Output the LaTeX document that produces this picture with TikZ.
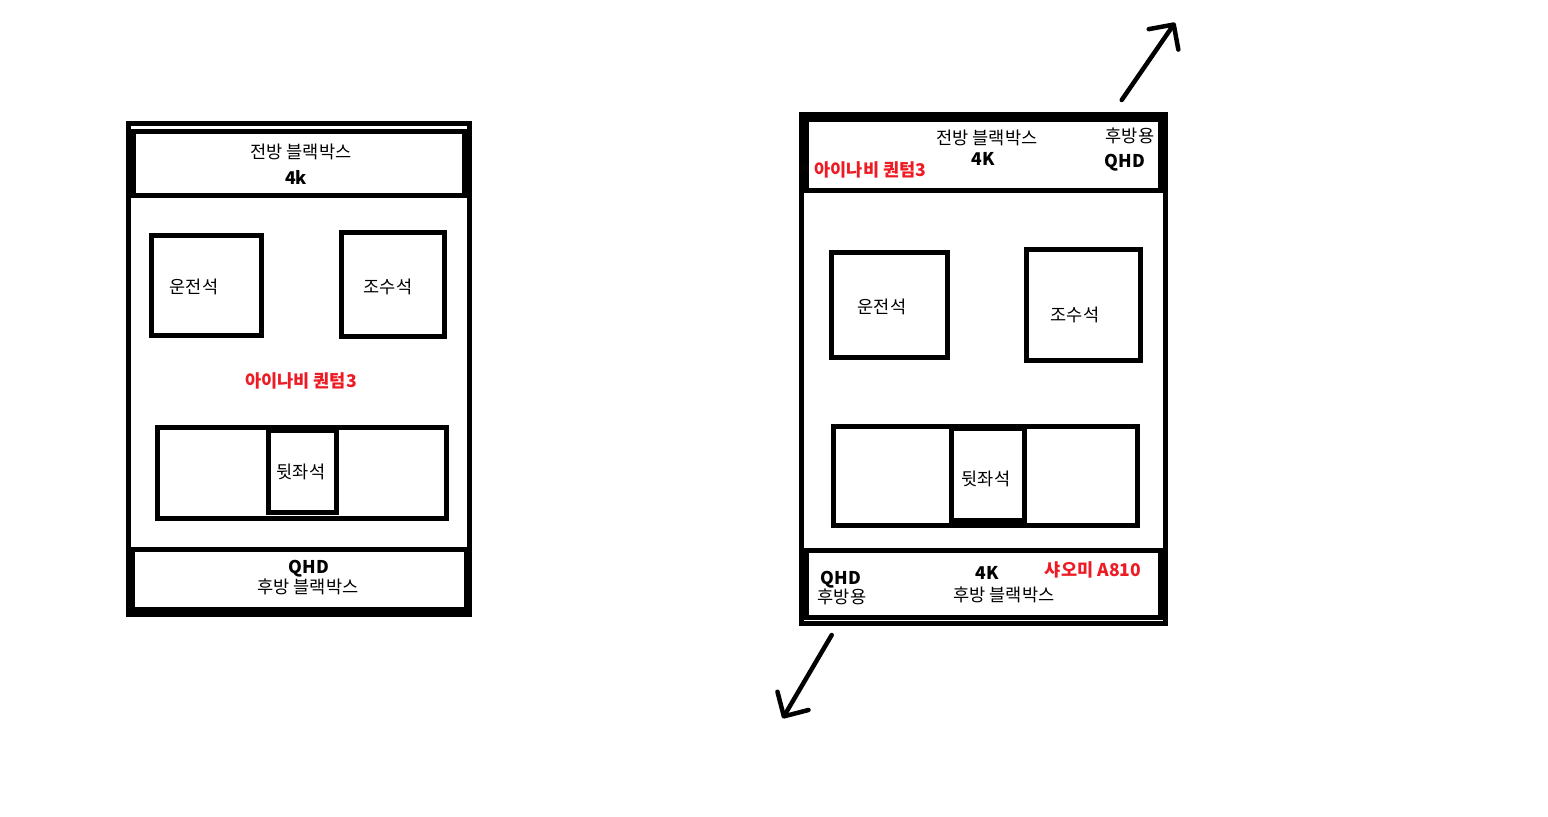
\documentclass[tikz,border=0pt]{standalone}
\usepackage{fontspec}
\setmainfont{Noto Sans CJK KR}
\usepackage{xcolor}
\usetikzlibrary{arrows.meta}
\definecolor{paintRed}{RGB}{237,28,36}

\begin{document}
\begin{tikzpicture}[
        x=0.02cm, y=-0.02cm,
        box/.style={rectangle, draw=black, line width=0.1cm, inner sep=0pt},
        txt/.style={font=\fontsize{10}{12}\selectfont, inner sep=0pt, align=center},
        spec/.style={txt, font=\fontsize{10}{12}\selectfont\bfseries},
        brand/.style={spec, text=paintRed},
        arrow/.style={-{Straight Barb[length=0.36cm, width=0.72cm, round]}, line width=0.09cm, line cap=round}
    ]
        \useasboundingbox (0,0) rectangle (1548,816);

        % ========== LEFT CAR (Before) ==========
        \node[box, minimum width=6.816cm, minimum height=9.84cm] (leftFrame) at (298.9,369) {};
        \node[box, minimum width=6.63cm, minimum height=1.29cm] (leftFront) at (299.25,163.25) {};
        \node[box, minimum width=6.7cm, minimum height=1.2cm] (leftRear) at (299.5,579) {};

        % seats
        \node[box, minimum width=2.2cm, minimum height=2.0cm] (leftDriver) at (206.5,285.5) {};
        \node[box, minimum width=2.06cm, minimum height=2.08cm] (leftPassenger) at (393,284) {};
        \node[box, minimum width=5.78cm, minimum height=1.82cm] (leftBack) at (302,473) {};
        \node[box, minimum width=1.36cm, minimum height=1.65cm] (leftBackMid) at (302.5,471.25) {};

        % texts
        \node[txt] (leftFrontName) at (301,152) {전방 블랙박스};
        \node[spec] (leftFrontRes) at (296,177) {4k};
        \node[txt] (leftDriverName) at (194,287) {운전석};
        \node[txt] (leftPassengerName) at (388,287) {조수석};
        \node[brand] (leftNavi) at (301,381) {아이나비 퀀텀3};
        \node[txt] (leftBackName) at (301,472) {뒷좌석};
        \node[spec] (leftRearRes) at (309,569) {QHD};
        \node[txt] (leftRearName) at (308,587) {후방 블랙박스};

        % ========== RIGHT CAR (After) ==========
        \node[box, minimum width=7.28cm, minimum height=10.19cm] (rightFrame) at (983.5,368.75) {};
        \node[box, minimum width=7.08cm, minimum height=1.42cm] (rightFront) at (983.5,155) {};
        \node[box, minimum width=7.09cm, minimum height=1.34cm] (rightRear) at (983.25,584) {};

        % seats
        \node[box, minimum width=2.32cm, minimum height=2.1cm] (rightDriver) at (889.5,305) {};
        \node[box, minimum width=2.28cm, minimum height=2.22cm] (rightPassenger) at (1083.5,305) {};
        \node[box, minimum width=6.08cm, minimum height=1.98cm] (rightBack) at (985.5,476) {};
        \node[box, minimum width=1.46cm, minimum height=1.85cm] (rightBackMid) at (988,474.25) {};

        % texts
        \node[txt] (rightFrontName) at (987,138) {전방 블랙박스};
        \node[spec] (rightFrontRes) at (983,159) {4K};
        \node[txt] (rightFrontAux) at (1130,136) {후방용};
        \node[spec] (rightFrontAuxRes) at (1125,163) {QHD};
        \node[brand] (rightNavi) at (870.5,170) {아이나비 퀀텀3};
        \node[txt] (rightDriverName) at (882,307) {운전석};
        \node[txt] (rightPassengerName) at (1075,315) {조수석};
        \node[txt] (rightBackName) at (986,479) {뒷좌석};
        \node[spec] (rightRearAuxRes) at (841,580) {QHD};
        \node[txt] (rightRearAux) at (842,597) {후방용};
        \node[spec] (rightRearRes) at (987,573) {4K};
        \node[txt] (rightRearName) at (1004,595) {후방 블랙박스};
        \node[brand] (rightXiaomi) at (1093,570) {샤오미 A810};

        % ========== VIEW DIRECTIONS ==========
        \coordinate (frontTail) at (1121.7,100);
        \coordinate (frontTip) at (1175,22.7);
        \coordinate (rearTail) at (831.7,635);
        \coordinate (rearTip) at (782.7,718.3);
        \draw[arrow] (frontTail) -- (frontTip);
        \draw[arrow] (rearTail) -- (rearTip);

    \end{tikzpicture}
\end{document}
